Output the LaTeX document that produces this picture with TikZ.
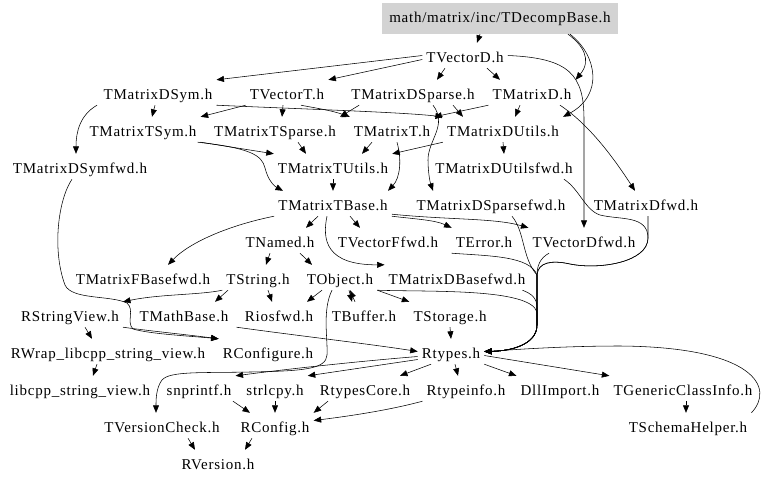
\documentclass[tikz,border=0pt]{standalone}
\usepackage{fontspec}
\setmainfont{Liberation Serif}[LetterSpace=5]
\usetikzlibrary{arrows.meta}
\definecolor{rootgray}{RGB}{211,211,211}
\begin{document}
\begin{tikzpicture}[x=1pt,y=-1pt,
  hdr/.style={font=\fontsize{15pt}{18pt}\selectfont, inner xsep=4pt, inner ysep=2pt, text height=17pt, text depth=4pt, anchor=base},
  edge/.style={draw, line width=0.55pt, -{Triangle[length=7.5pt,width=6pt]}}]
\useasboundingbox (0,0) rectangle (768,483);
% nodes
\node[hdr, anchor=center, fill=rootgray, minimum width=236pt, minimum height=31pt, text height=11pt, text depth=3pt, inner ysep=0pt] (root) at (500,18.5) {math/matrix/inc/TDecompBase.h};
\node[hdr] (tvd) at (465,62) {TVectorD.h};
\node[hdr] (tmds) at (158,99) {TMatrixDSym.h};
\node[hdr] (tvt) at (287,99) {TVectorT.h};
\node[hdr] (tmdsp) at (413,99) {TMatrixDSparse.h};
\node[hdr] (tmd) at (532,99) {TMatrixD.h};
\node[hdr] (tmts) at (143,136) {TMatrixTSym.h};
\node[hdr] (tmtsp) at (275,136) {TMatrixTSparse.h};
\node[hdr] (tmt) at (392,136) {TMatrixT.h};
\node[hdr] (tmdu) at (503,136) {TMatrixDUtils.h};
\node[hdr] (tmdsf) at (80,173) {TMatrixDSymfwd.h};
\node[hdr] (tmtu) at (333,173) {TMatrixTUtils.h};
\node[hdr] (tmduf) at (504,173) {TMatrixDUtilsfwd.h};
\node[hdr] (tmtb) at (333,210) {TMatrixTBase.h};
\node[hdr] (tmdspf) at (491,210) {TMatrixDSparsefwd.h};
\node[hdr] (tmdf) at (646,210) {TMatrixDfwd.h};
\node[hdr] (tnm) at (280,247) {TNamed.h};
\node[hdr] (tvff) at (388,247) {TVectorFfwd.h};
\node[hdr] (tere) at (484,247) {TError.h};
\node[hdr] (tvdf) at (584,247) {TVectorDfwd.h};
\node[hdr] (tmfbf) at (143,284) {TMatrixFBasefwd.h};
\node[hdr] (tstr) at (258,284) {TString.h};
\node[hdr] (tob) at (340,284) {TObject.h};
\node[hdr] (tmdbf) at (457,284) {TMatrixDBasefwd.h};
\node[hdr] (rsv) at (70,321) {RStringView.h};
\node[hdr] (tmb) at (184,321) {TMathBase.h};
\node[hdr] (rio) at (279,321) {Riosfwd.h};
\node[hdr] (tbuf) at (364,321) {TBuffer.h};
\node[hdr] (tsto) at (450,321) {TStorage.h};
\node[hdr] (rwr) at (108,358) {RWrap\_libcpp\_string\_view.h};
\node[hdr] (rcf) at (268,358) {RConfigure.h};
\node[hdr] (rt) at (451,358) {Rtypes.h};
\node[hdr] (lib) at (80,395) {libcpp\_string\_view.h};
\node[hdr] (snp) at (199,395) {snprintf.h};
\node[hdr] (strl) at (275,395) {strlcpy.h};
\node[hdr] (rtc) at (365,395) {RtypesCore.h};
\node[hdr] (rti) at (466,395) {Rtypeinfo.h};
\node[hdr] (dll) at (560,395) {DllImport.h};
\node[hdr] (tgci) at (683,395) {TGenericClassInfo.h};
\node[hdr] (tvc) at (162,432) {TVersionCheck.h};
\node[hdr] (rcg) at (275,432) {RConfig.h};
\node[hdr] (tsh) at (688,432) {TSchemaHelper.h};
\node[hdr] (rv) at (218,469) {RVersion.h};
\coordinate (bj) at (537,275);
\coordinate (bk) at (537,325);
% root
\draw[edge] ([xshift=-20pt]root.south) -- ([xshift=12pt]tvd.north);
\draw[edge] ([xshift=68pt]root.south) .. controls (583,45) and (592,60) .. (tmd.north east);
\draw[edge] ([xshift=70pt]root.south) .. controls (597,55) and (604,95) .. (tmdu.north east);
% TVectorD
\draw[edge] (tvd.east) .. controls (570,58) and (584,75) .. (584,120) -- (tvdf.north);
\draw[edge] (tvd.west) -- (tmds.north east);
\draw[edge] ([yshift=-4pt]tvd.west) -- (tvt.north east);
\draw[edge] ([xshift=-20pt]tvd.south) -- ([xshift=24pt]tmdsp.north);
\draw[edge] ([xshift=22pt]tvd.south) -- ([xshift=-32pt]tmd.north);
% row 2
\draw[edge] ([xshift=-3pt]tmds.south) -- ([xshift=9pt]tmts.north);
\draw[edge] ([xshift=-61pt]tmds.south) .. controls (80,115) and (76,132) .. ([xshift=-4pt]tmdsf.north);
\draw[edge] (tmds.south east) .. controls (300,109) and (400,112) .. (tmdu.north west);
\draw[edge] ([xshift=14pt]tvt.south) .. controls (315,108) and (330,110) .. (tmt.north west);
\draw[edge] (tvt.south west) -- (tmts.north east);
\draw[edge] ([xshift=-4pt]tvt.south) -- ([xshift=7pt]tmtsp.north);
\draw[edge] ([xshift=12pt]tmdsp.south west) -- (tmtsp.north east);
\draw[edge] ([xshift=40pt]tmdsp.south) -- ([xshift=-40pt]tmdu.north);
\draw[edge] ([xshift=20pt]tmdsp.south) .. controls (448,125) and (428,140) .. (428,160) .. controls (428,172) and (430,182) .. ([xshift=-58pt]tmdspf.north);
\draw[edge] (tmd.south west) -- (tmt.north east);
\draw[edge] ([xshift=-12pt]tmd.south) -- ([xshift=12pt]tmdu.north);
\draw[edge] ([xshift=28pt]tmd.south) .. controls (590,125) and (615,160) .. ([xshift=-11pt]tmdf.north);
% row 3
\draw[edge] (tmts.south east) -- (tmtu.north west);
\draw[edge] ([xshift=-3pt]tmts.south east) .. controls (250,148) and (262,155) .. (265,168) .. controls (268,180) and (274,186) .. ([xshift=-50pt]tmtb.north);
\draw[edge] ([xshift=23pt]tmtsp.south) -- ([xshift=-27pt]tmtu.north);
\draw[edge] ([xshift=-20pt]tmt.south) -- ([xshift=29pt]tmtu.north);
\draw[edge] ([xshift=5pt]tmt.south) .. controls (402,160) and (400,178) .. ([xshift=55pt]tmtb.north);
\draw[edge] (tmdu.south west) -- (tmtu.north east);
\draw[edge] (tmdu.south) -- (tmduf.north);
% row 4
\draw[edge] (tmtu.south) -- (tmtb.north);
\draw[edge] ([xshift=-8pt]tmdsf.south) .. controls (58,200) and (52,250) .. (65,285) .. controls (72,300) and (110,295) .. (127,303) .. controls (135,310) and (126,322) .. (133,329) .. controls (150,334) and (190,336) .. (rcf.north west);
% bundle into Rtypes
\draw[edge] ([xshift=21pt]tmdspf.south) .. controls (525,232) and (522,258) .. (bj) -- (bk) .. controls (537,345) and (510,351) .. (rt.east);
\draw[edge] (tere.south west) .. controls (490,256) and (530,256) .. (bj) -- (bk) .. controls (537,345) and (510,351) .. (rt.east);
\draw[edge] ([xshift=-35pt]tvdf.south) .. controls (540,258) and (537,266) .. (bj) -- (bk) .. controls (537,345) and (510,351) .. (rt.east);
\draw[edge] ([xshift=60pt]tmduf.south) .. controls (580,190) and (585,210) .. (600,215) .. controls (620,220) and (648,215) .. (648,238) .. controls (648,262) and (600,270) .. (570,264) .. controls (552,260) and (538,262) .. (bj) -- (bk) .. controls (537,345) and (510,351) .. (rt.east);
\draw[edge] ([xshift=2pt]tmdf.south) -- (648,238) .. controls (648,262) and (600,270) .. (570,264) .. controls (552,260) and (538,262) .. (bj) -- (bk) .. controls (537,345) and (510,351) .. (rt.east);
\draw[edge] (tob.south east) .. controls (430,292) and (530,288) .. (537,312) -- (bk) .. controls (537,345) and (510,351) .. (rt.east);
\draw[edge] ([xshift=-7pt]tmdbf.south east) .. controls (532,294) and (537,298) .. (537,308) -- (bk) .. controls (537,345) and (510,351) .. (rt.east);
% TMatrixTBase
\draw[edge] (tmtb.south west) .. controls (230,225) and (190,242) .. ([xshift=25pt]tmfbf.north);
\draw[edge] ([xshift=-15pt]tmtb.south) -- ([xshift=26pt]tnm.north);
\draw[edge] ([xshift=17pt]tmtb.south) -- ([xshift=-28pt]tvff.north);
\draw[edge] (tmtb.south east) .. controls (415,219) and (435,220) .. (tere.north west);
\draw[edge] ([yshift=2pt]tmtb.south east) .. controls (450,220) and (495,218) .. (tvdf.north west);
\draw[edge] ([xshift=-6pt]tmtb.south) .. controls (322,240) and (326,265) .. (tmdbf.north west);
% TNamed, TString, TObject
\draw[edge] ([xshift=-10pt]tnm.south) -- ([xshift=8pt]tstr.north);
\draw[edge] ([xshift=20pt]tnm.south) -- ([xshift=-28pt]tob.north);
\draw[edge] ([xshift=-30pt]tstr.south) -- ([xshift=31pt]tmb.north);
\draw[edge] (tstr.south west) .. controls (200,295) and (160,294) .. (rsv.north east);
\draw[edge] ([xshift=10pt]tstr.south) -- ([xshift=-7pt]rio.north);
\draw[edge] ([xshift=-18pt]tob.south) -- ([xshift=28pt]rio.north);
\draw[edge] ([xshift=9pt]tob.south) -- ([xshift=-12pt]tbuf.north);
\draw[edge] ([xshift=-9pt]tbuf.north) -- ([xshift=10pt]tob.south);
\draw[edge] (tob.south east) -- (tsto.north west);
\draw[edge] ([xshift=-8pt]tob.south) .. controls (322,310) and (328,340) .. (327,355) .. controls (326,369) and (305,371) .. (250,372) .. controls (200,373) and (170,371) .. (162,380) .. controls (156,388) and (156,400) .. ([xshift=-6pt]tvc.north);
% lower rows
\draw[edge] (tsto.south) -- (rt.north);
\draw[edge] ([xshift=4pt]tmb.south east) .. controls (300,336) and (370,344) .. (rt.west);
\draw[edge] (rsv.south east) .. controls (150,331) and (190,335) .. (rcf.north west);
\draw[edge] ([xshift=15pt]rsv.south) -- ([xshift=-16pt]rwr.north);
\draw[edge] ([xshift=-11pt]rwr.south) -- ([xshift=13pt]lib.north);
\draw[edge] ([yshift=-5pt]rt.west) .. controls (350,362) and (280,370) .. (snp.north east);
\draw[edge] ([yshift=-8pt]rt.west) -- (strl.north east);
\draw[edge] ([xshift=-20pt]rt.south) -- ([xshift=35pt]rtc.north);
\draw[edge] ([xshift=4pt]rt.south) -- ([xshift=-8pt]rti.north);
\draw[edge] (rt.south east) -- (dll.north west);
\draw[edge] ([yshift=-4pt]rt.east) -- (tgci.north west);
\draw[edge] (rti.south west) .. controls (390,410) and (350,416) .. ([yshift=5pt]rcg.east);
\draw[edge] ([xshift=34pt]snp.south) -- ([xshift=-25pt]rcg.north);
\draw[edge] (strl.south) -- (rcg.north);
\draw[edge] ([xshift=-37pt]rtc.south) -- (rcg.north east);
\draw[edge] ([xshift=26pt]tvc.south) -- ([xshift=-23pt]rv.north);
\draw[edge] ([xshift=-23pt]rcg.south) -- ([xshift=27pt]rv.north);
\draw[edge] ([xshift=3pt]tgci.south) -- ([xshift=-2pt]tsh.north);
\draw[edge] (tsh.north east) .. controls (775,388) and (755,347) .. (620,346) .. controls (560,346) and (510,350) .. (rt.east);
\end{tikzpicture}
\end{document}
